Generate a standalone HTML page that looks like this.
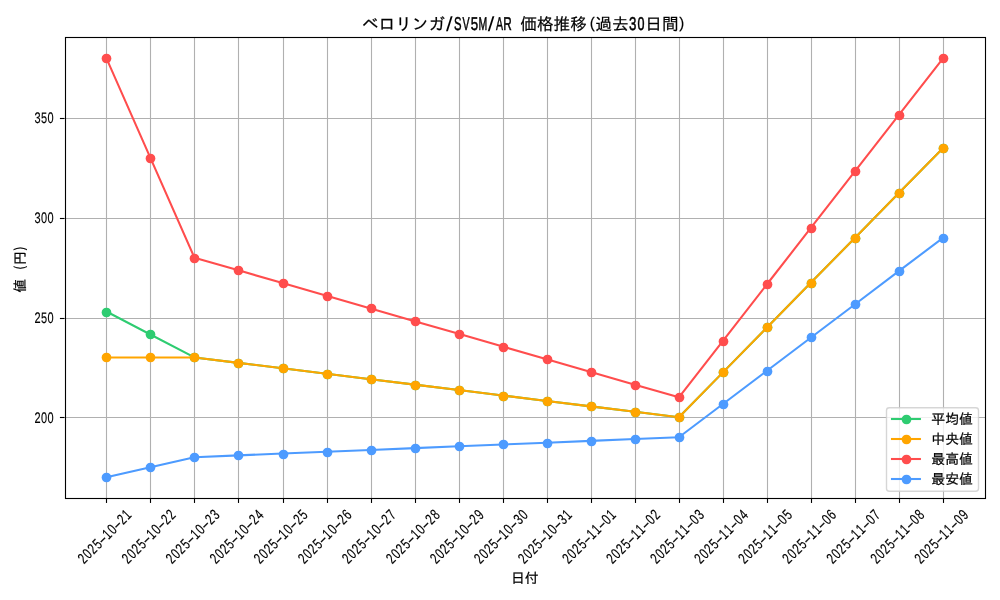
<!DOCTYPE html>
<html lang="ja"><head><meta charset="utf-8"><title>ベロリンガ/SV5M/AR 価格推移</title>
<style>html,body{margin:0;padding:0;background:#fff;overflow:hidden}svg{display:block}svg{will-change:transform}text{font-family:'Liberation Sans', 'IPAGothic', 'Noto Sans CJK JP', sans-serif;fill:#000;stroke:#000;stroke-width:0.22px}.g{text-rendering:geometricPrecision;stroke-width:0.15px}</style></head><body>
<svg width="1000" height="600" viewBox="0 0 1000 600">
<rect width="1000" height="600" fill="#fff"/>
<g stroke="#b0b0b0" stroke-width="1.11" fill="none">
<path d="M106.5 37.15 V498.1"/>
<path d="M150.5 37.15 V498.1"/>
<path d="M194.5 37.15 V498.1"/>
<path d="M238.5 37.15 V498.1"/>
<path d="M283.5 37.15 V498.1"/>
<path d="M327.5 37.15 V498.1"/>
<path d="M371.5 37.15 V498.1"/>
<path d="M415.5 37.15 V498.1"/>
<path d="M459.5 37.15 V498.1"/>
<path d="M503.5 37.15 V498.1"/>
<path d="M547.5 37.15 V498.1"/>
<path d="M591.5 37.15 V498.1"/>
<path d="M635.5 37.15 V498.1"/>
<path d="M679.5 37.15 V498.1"/>
<path d="M723.5 37.15 V498.1"/>
<path d="M767.5 37.15 V498.1"/>
<path d="M811.5 37.15 V498.1"/>
<path d="M855.5 37.15 V498.1"/>
<path d="M899.5 37.15 V498.1"/>
<path d="M943.5 37.15 V498.1"/>
<path d="M64.52 417.5 H985"/>
<path d="M64.52 318.5 H985"/>
<path d="M64.52 218.5 H985"/>
<path d="M64.52 118.5 H985"/>
</g>
<g stroke="#000" stroke-width="1.11" fill="none">
<path d="M106.5 498.1 v4.86"/>
<path d="M150.5 498.1 v4.86"/>
<path d="M194.5 498.1 v4.86"/>
<path d="M238.5 498.1 v4.86"/>
<path d="M283.5 498.1 v4.86"/>
<path d="M327.5 498.1 v4.86"/>
<path d="M371.5 498.1 v4.86"/>
<path d="M415.5 498.1 v4.86"/>
<path d="M459.5 498.1 v4.86"/>
<path d="M503.5 498.1 v4.86"/>
<path d="M547.5 498.1 v4.86"/>
<path d="M591.5 498.1 v4.86"/>
<path d="M635.5 498.1 v4.86"/>
<path d="M679.5 498.1 v4.86"/>
<path d="M723.5 498.1 v4.86"/>
<path d="M767.5 498.1 v4.86"/>
<path d="M811.5 498.1 v4.86"/>
<path d="M855.5 498.1 v4.86"/>
<path d="M899.5 498.1 v4.86"/>
<path d="M943.5 498.1 v4.86"/>
<path d="M64.52 417.5 h-4.6"/>
<path d="M64.52 318.5 h-4.6"/>
<path d="M64.52 218.5 h-4.6"/>
<path d="M64.52 118.5 h-4.6"/>
</g>
<clipPath id="c"><rect x="64.52" y="37.15" width="920.48" height="460.94"/></clipPath>
<g clip-path="url(#c)">
<path d="M106.36 311.53 L150.4 334.47 L194.44 357.42 L238.49 362.86 L282.53 368.3 L326.57 373.75 L370.61 379.19 L414.65 384.63 L458.7 390.07 L502.74 395.51 L546.78 400.96 L590.82 406.4 L634.87 411.84 L678.91 417.28 L722.95 372.39 L766.99 327.49 L811.03 282.59 L855.08 237.69 L899.12 192.8 L943.16 147.9" fill="none" stroke="#2ecc71" stroke-width="2.08" stroke-linejoin="round" stroke-linecap="square"/>
<g fill="#2ecc71">
<circle cx="106.5" cy="312.5" r="4.86"/>
<circle cx="150.5" cy="334.5" r="4.86"/>
<circle cx="194.5" cy="357.5" r="4.86"/>
<circle cx="238.5" cy="363.5" r="4.86"/>
<circle cx="283.5" cy="368.5" r="4.86"/>
<circle cx="327.5" cy="374.5" r="4.86"/>
<circle cx="371.5" cy="379.5" r="4.86"/>
<circle cx="415.5" cy="385.5" r="4.86"/>
<circle cx="459.5" cy="390.5" r="4.86"/>
<circle cx="503.5" cy="396.5" r="4.86"/>
<circle cx="547.5" cy="401.5" r="4.86"/>
<circle cx="591.5" cy="406.5" r="4.86"/>
<circle cx="635.5" cy="412.5" r="4.86"/>
<circle cx="679.5" cy="417.5" r="4.86"/>
<circle cx="723.5" cy="372.5" r="4.86"/>
<circle cx="767.5" cy="327.5" r="4.86"/>
<circle cx="811.5" cy="283.5" r="4.86"/>
<circle cx="855.5" cy="238.5" r="4.86"/>
<circle cx="899.5" cy="193.5" r="4.86"/>
<circle cx="943.5" cy="148.5" r="4.86"/>
</g>
<path d="M106.36 357.42 L150.4 357.42 L194.44 357.42 L238.49 362.86 L282.53 368.3 L326.57 373.75 L370.61 379.19 L414.65 384.63 L458.7 390.07 L502.74 395.51 L546.78 400.96 L590.82 406.4 L634.87 411.84 L678.91 417.28 L722.95 372.39 L766.99 327.49 L811.03 282.59 L855.08 237.69 L899.12 192.8 L943.16 147.9" fill="none" stroke="#ffa500" stroke-width="2.08" stroke-linejoin="round" stroke-linecap="square"/>
<g fill="#ffa500">
<circle cx="106.5" cy="357.5" r="4.86"/>
<circle cx="150.5" cy="357.5" r="4.86"/>
<circle cx="194.5" cy="357.5" r="4.86"/>
<circle cx="238.5" cy="363.5" r="4.86"/>
<circle cx="283.5" cy="368.5" r="4.86"/>
<circle cx="327.5" cy="374.5" r="4.86"/>
<circle cx="371.5" cy="379.5" r="4.86"/>
<circle cx="415.5" cy="385.5" r="4.86"/>
<circle cx="459.5" cy="390.5" r="4.86"/>
<circle cx="503.5" cy="396.5" r="4.86"/>
<circle cx="547.5" cy="401.5" r="4.86"/>
<circle cx="591.5" cy="406.5" r="4.86"/>
<circle cx="635.5" cy="412.5" r="4.86"/>
<circle cx="679.5" cy="417.5" r="4.86"/>
<circle cx="723.5" cy="372.5" r="4.86"/>
<circle cx="767.5" cy="327.5" r="4.86"/>
<circle cx="811.5" cy="283.5" r="4.86"/>
<circle cx="855.5" cy="238.5" r="4.86"/>
<circle cx="899.5" cy="193.5" r="4.86"/>
<circle cx="943.5" cy="148.5" r="4.86"/>
</g>
<path d="M106.36 58.11 L150.4 157.88 L194.44 257.65 L238.49 270.35 L282.53 283.05 L326.57 295.74 L370.61 308.44 L414.65 321.14 L458.7 333.84 L502.74 346.54 L546.78 359.23 L590.82 371.93 L634.87 384.63 L678.91 397.33 L722.95 340.79 L766.99 284.25 L811.03 227.72 L855.08 171.18 L899.12 114.64 L943.16 58.11" fill="none" stroke="#ff4d4d" stroke-width="2.08" stroke-linejoin="round" stroke-linecap="square"/>
<g fill="#ff4d4d">
<circle cx="106.5" cy="58.5" r="4.86"/>
<circle cx="150.5" cy="158.5" r="4.86"/>
<circle cx="194.5" cy="258.5" r="4.86"/>
<circle cx="238.5" cy="270.5" r="4.86"/>
<circle cx="283.5" cy="283.5" r="4.86"/>
<circle cx="327.5" cy="296.5" r="4.86"/>
<circle cx="371.5" cy="308.5" r="4.86"/>
<circle cx="415.5" cy="321.5" r="4.86"/>
<circle cx="459.5" cy="334.5" r="4.86"/>
<circle cx="503.5" cy="347.5" r="4.86"/>
<circle cx="547.5" cy="359.5" r="4.86"/>
<circle cx="591.5" cy="372.5" r="4.86"/>
<circle cx="635.5" cy="385.5" r="4.86"/>
<circle cx="679.5" cy="397.5" r="4.86"/>
<circle cx="723.5" cy="341.5" r="4.86"/>
<circle cx="767.5" cy="284.5" r="4.86"/>
<circle cx="811.5" cy="228.5" r="4.86"/>
<circle cx="855.5" cy="171.5" r="4.86"/>
<circle cx="899.5" cy="115.5" r="4.86"/>
<circle cx="943.5" cy="58.5" r="4.86"/>
</g>
<path d="M106.36 477.15 L150.4 467.17 L194.44 457.19 L238.49 455.38 L282.53 453.56 L326.57 451.75 L370.61 449.94 L414.65 448.12 L458.7 446.31 L502.74 444.49 L546.78 442.68 L590.82 440.87 L634.87 439.05 L678.91 437.24 L722.95 403.98 L766.99 370.72 L811.03 337.47 L855.08 304.21 L899.12 270.95 L943.16 237.69" fill="none" stroke="#4d9bff" stroke-width="2.08" stroke-linejoin="round" stroke-linecap="square"/>
<g fill="#4d9bff">
<circle cx="106.5" cy="477.5" r="4.86"/>
<circle cx="150.5" cy="467.5" r="4.86"/>
<circle cx="194.5" cy="457.5" r="4.86"/>
<circle cx="238.5" cy="455.5" r="4.86"/>
<circle cx="283.5" cy="454.5" r="4.86"/>
<circle cx="327.5" cy="452.5" r="4.86"/>
<circle cx="371.5" cy="450.5" r="4.86"/>
<circle cx="415.5" cy="448.5" r="4.86"/>
<circle cx="459.5" cy="446.5" r="4.86"/>
<circle cx="503.5" cy="444.5" r="4.86"/>
<circle cx="547.5" cy="443.5" r="4.86"/>
<circle cx="591.5" cy="441.5" r="4.86"/>
<circle cx="635.5" cy="439.5" r="4.86"/>
<circle cx="679.5" cy="437.5" r="4.86"/>
<circle cx="723.5" cy="404.5" r="4.86"/>
<circle cx="767.5" cy="371.5" r="4.86"/>
<circle cx="811.5" cy="337.5" r="4.86"/>
<circle cx="855.5" cy="304.5" r="4.86"/>
<circle cx="899.5" cy="271.5" r="4.86"/>
<circle cx="943.5" cy="238.5" r="4.86"/>
</g>
</g>
<rect x="65.5" y="37.5" width="920" height="461" fill="none" stroke="#000" stroke-width="1.11"/>
<text class="g" transform="translate(83.66 564.76) rotate(-45) scale(0.72 1)" font-size="15.25"><tspan x="0.58 10.23 19.87 29.53">2025</tspan><tspan x="37.91" textLength="10.99" lengthAdjust="spacingAndGlyphs">-</tspan><tspan x="48.6 58.46">10</tspan><tspan x="66.85" textLength="10.99" lengthAdjust="spacingAndGlyphs">-</tspan><tspan x="77.75 87.19">21</tspan></text>
<text class="g" transform="translate(127.7 564.76) rotate(-45) scale(0.72 1)" font-size="15.25"><tspan x="0.58 10.23 19.87 29.53">2025</tspan><tspan x="37.91" textLength="10.99" lengthAdjust="spacingAndGlyphs">-</tspan><tspan x="48.6 58.46">10</tspan><tspan x="66.85" textLength="10.99" lengthAdjust="spacingAndGlyphs">-</tspan><tspan x="77.75 87.39">22</tspan></text>
<text class="g" transform="translate(171.74 564.76) rotate(-45) scale(0.72 1)" font-size="15.25"><tspan x="0.58 10.23 19.87 29.53">2025</tspan><tspan x="37.91" textLength="10.99" lengthAdjust="spacingAndGlyphs">-</tspan><tspan x="48.6 58.46">10</tspan><tspan x="66.85" textLength="10.99" lengthAdjust="spacingAndGlyphs">-</tspan><tspan x="77.75 87.44">23</tspan></text>
<text class="g" transform="translate(215.79 564.76) rotate(-45) scale(0.72 1)" font-size="15.25"><tspan x="0.58 10.23 19.87 29.53">2025</tspan><tspan x="37.91" textLength="10.99" lengthAdjust="spacingAndGlyphs">-</tspan><tspan x="48.6 58.46">10</tspan><tspan x="66.85" textLength="10.99" lengthAdjust="spacingAndGlyphs">-</tspan><tspan x="77.75 87.44">24</tspan></text>
<text class="g" transform="translate(259.83 564.76) rotate(-45) scale(0.72 1)" font-size="15.25"><tspan x="0.58 10.23 19.87 29.53">2025</tspan><tspan x="37.91" textLength="10.99" lengthAdjust="spacingAndGlyphs">-</tspan><tspan x="48.6 58.46">10</tspan><tspan x="66.85" textLength="10.99" lengthAdjust="spacingAndGlyphs">-</tspan><tspan x="77.75 87.41">25</tspan></text>
<text class="g" transform="translate(303.87 564.76) rotate(-45) scale(0.72 1)" font-size="15.25"><tspan x="0.58 10.23 19.87 29.53">2025</tspan><tspan x="37.91" textLength="10.99" lengthAdjust="spacingAndGlyphs">-</tspan><tspan x="48.6 58.46">10</tspan><tspan x="66.85" textLength="10.99" lengthAdjust="spacingAndGlyphs">-</tspan><tspan x="77.75 87.34">26</tspan></text>
<text class="g" transform="translate(347.91 564.76) rotate(-45) scale(0.72 1)" font-size="15.25"><tspan x="0.58 10.23 19.87 29.53">2025</tspan><tspan x="37.91" textLength="10.99" lengthAdjust="spacingAndGlyphs">-</tspan><tspan x="48.6 58.46">10</tspan><tspan x="66.85" textLength="10.99" lengthAdjust="spacingAndGlyphs">-</tspan><tspan x="77.75 87.39">27</tspan></text>
<text class="g" transform="translate(391.95 564.76) rotate(-45) scale(0.72 1)" font-size="15.25"><tspan x="0.58 10.23 19.87 29.53">2025</tspan><tspan x="37.91" textLength="10.99" lengthAdjust="spacingAndGlyphs">-</tspan><tspan x="48.6 58.46">10</tspan><tspan x="66.85" textLength="10.99" lengthAdjust="spacingAndGlyphs">-</tspan><tspan x="77.75 87.39">28</tspan></text>
<text class="g" transform="translate(436 564.76) rotate(-45) scale(0.72 1)" font-size="15.25"><tspan x="0.58 10.23 19.87 29.53">2025</tspan><tspan x="37.91" textLength="10.99" lengthAdjust="spacingAndGlyphs">-</tspan><tspan x="48.6 58.46">10</tspan><tspan x="66.85" textLength="10.99" lengthAdjust="spacingAndGlyphs">-</tspan><tspan x="77.75 87.4">29</tspan></text>
<text class="g" transform="translate(480.04 564.76) rotate(-45) scale(0.72 1)" font-size="15.25"><tspan x="0.58 10.23 19.87 29.53">2025</tspan><tspan x="37.91" textLength="10.99" lengthAdjust="spacingAndGlyphs">-</tspan><tspan x="48.6 58.46">10</tspan><tspan x="66.85" textLength="10.99" lengthAdjust="spacingAndGlyphs">-</tspan><tspan x="77.79 87.39">30</tspan></text>
<text class="g" transform="translate(524.08 564.76) rotate(-45) scale(0.72 1)" font-size="15.25"><tspan x="0.58 10.23 19.87 29.53">2025</tspan><tspan x="37.91" textLength="10.99" lengthAdjust="spacingAndGlyphs">-</tspan><tspan x="48.6 58.46">10</tspan><tspan x="66.85" textLength="10.99" lengthAdjust="spacingAndGlyphs">-</tspan><tspan x="77.79 87.19">31</tspan></text>
<text class="g" transform="translate(568.12 564.76) rotate(-45) scale(0.72 1)" font-size="15.25"><tspan x="0.58 10.23 19.87 29.53">2025</tspan><tspan x="37.91" textLength="10.99" lengthAdjust="spacingAndGlyphs">-</tspan><tspan x="48.6 58.25">11</tspan><tspan x="66.85" textLength="10.99" lengthAdjust="spacingAndGlyphs">-</tspan><tspan x="77.75 87.19">01</tspan></text>
<text class="g" transform="translate(612.17 564.76) rotate(-45) scale(0.72 1)" font-size="15.25"><tspan x="0.58 10.23 19.87 29.53">2025</tspan><tspan x="37.91" textLength="10.99" lengthAdjust="spacingAndGlyphs">-</tspan><tspan x="48.6 58.25">11</tspan><tspan x="66.85" textLength="10.99" lengthAdjust="spacingAndGlyphs">-</tspan><tspan x="77.75 87.39">02</tspan></text>
<text class="g" transform="translate(656.21 564.76) rotate(-45) scale(0.72 1)" font-size="15.25"><tspan x="0.58 10.23 19.87 29.53">2025</tspan><tspan x="37.91" textLength="10.99" lengthAdjust="spacingAndGlyphs">-</tspan><tspan x="48.6 58.25">11</tspan><tspan x="66.85" textLength="10.99" lengthAdjust="spacingAndGlyphs">-</tspan><tspan x="77.75 87.44">03</tspan></text>
<text class="g" transform="translate(700.25 564.76) rotate(-45) scale(0.72 1)" font-size="15.25"><tspan x="0.58 10.23 19.87 29.53">2025</tspan><tspan x="37.91" textLength="10.99" lengthAdjust="spacingAndGlyphs">-</tspan><tspan x="48.6 58.25">11</tspan><tspan x="66.85" textLength="10.99" lengthAdjust="spacingAndGlyphs">-</tspan><tspan x="77.75 87.44">04</tspan></text>
<text class="g" transform="translate(744.29 564.76) rotate(-45) scale(0.72 1)" font-size="15.25"><tspan x="0.58 10.23 19.87 29.53">2025</tspan><tspan x="37.91" textLength="10.99" lengthAdjust="spacingAndGlyphs">-</tspan><tspan x="48.6 58.25">11</tspan><tspan x="66.85" textLength="10.99" lengthAdjust="spacingAndGlyphs">-</tspan><tspan x="77.75 87.41">05</tspan></text>
<text class="g" transform="translate(788.33 564.76) rotate(-45) scale(0.72 1)" font-size="15.25"><tspan x="0.58 10.23 19.87 29.53">2025</tspan><tspan x="37.91" textLength="10.99" lengthAdjust="spacingAndGlyphs">-</tspan><tspan x="48.6 58.25">11</tspan><tspan x="66.85" textLength="10.99" lengthAdjust="spacingAndGlyphs">-</tspan><tspan x="77.75 87.34">06</tspan></text>
<text class="g" transform="translate(832.38 564.76) rotate(-45) scale(0.72 1)" font-size="15.25"><tspan x="0.58 10.23 19.87 29.53">2025</tspan><tspan x="37.91" textLength="10.99" lengthAdjust="spacingAndGlyphs">-</tspan><tspan x="48.6 58.25">11</tspan><tspan x="66.85" textLength="10.99" lengthAdjust="spacingAndGlyphs">-</tspan><tspan x="77.75 87.39">07</tspan></text>
<text class="g" transform="translate(876.42 564.76) rotate(-45) scale(0.72 1)" font-size="15.25"><tspan x="0.58 10.23 19.87 29.53">2025</tspan><tspan x="37.91" textLength="10.99" lengthAdjust="spacingAndGlyphs">-</tspan><tspan x="48.6 58.25">11</tspan><tspan x="66.85" textLength="10.99" lengthAdjust="spacingAndGlyphs">-</tspan><tspan x="77.75 87.39">08</tspan></text>
<text class="g" transform="translate(920.46 564.76) rotate(-45) scale(0.72 1)" font-size="15.25"><tspan x="0.58 10.23 19.87 29.53">2025</tspan><tspan x="37.91" textLength="10.99" lengthAdjust="spacingAndGlyphs">-</tspan><tspan x="48.6 58.25">11</tspan><tspan x="66.85" textLength="10.99" lengthAdjust="spacingAndGlyphs">-</tspan><tspan x="77.75 87.4">09</tspan></text>
<text class="g" transform="translate(34.35 422.68) scale(0.72 1)" font-size="15.25"><tspan x="0.24 9.2 18.16">200</tspan></text>
<text class="g" transform="translate(34.35 322.91) scale(0.72 1)" font-size="15.25"><tspan x="0.24 9.21 18.16">250</tspan></text>
<text class="g" transform="translate(34.35 223.14) scale(0.72 1)" font-size="15.25"><tspan x="0.28 9.2 18.16">300</tspan></text>
<text class="g" transform="translate(34.35 123.37) scale(0.72 1)" font-size="15.25"><tspan x="0.28 9.21 18.16">350</tspan></text>
<text x="524.76" y="583.2" font-size="13.89" text-anchor="middle">日付</text>
<text transform="translate(25.2 268.43) rotate(-90)" font-size="13.89"><tspan x="-24.31" y="0">値</tspan><tspan x="-10.42" y="0"> </tspan><tspan class="g" x="-0.71" y="-1.3" textLength="3.27" lengthAdjust="spacingAndGlyphs" font-size="14.3">(</tspan><tspan x="3.47" y="0">円</tspan><tspan class="g" x="18.28" y="-1.3" textLength="3.27" lengthAdjust="spacingAndGlyphs" font-size="14.3">)</tspan></text>
<text font-size="16.67"><tspan x="361.88" y="29.62">ベロリンガ</tspan><tspan class="g" x="446.09" y="30.62" textLength="6.6" lengthAdjust="spacingAndGlyphs" font-size="20.5" style="stroke-width:0">/</tspan><tspan class="g" x="453.97" y="29.62" textLength="7.53" lengthAdjust="spacingAndGlyphs" font-size="18.5" style="stroke-width:0.5px">S</tspan><tspan class="g" x="462.52" y="29.62" textLength="7.09" lengthAdjust="spacingAndGlyphs" font-size="18.5" style="stroke-width:0.5px">V</tspan><tspan class="g" x="470.72" y="29.62" textLength="7.39" lengthAdjust="spacingAndGlyphs" font-size="18.5" style="stroke-width:0.5px">5</tspan><tspan class="g" x="478.38" y="29.62" textLength="8.72" lengthAdjust="spacingAndGlyphs" font-size="18.5" style="stroke-width:0.5px">M</tspan><tspan class="g" x="487.77" y="30.62" textLength="6.6" lengthAdjust="spacingAndGlyphs" font-size="20.5" style="stroke-width:0">/</tspan><tspan class="g" x="495.88" y="29.62" textLength="7.04" lengthAdjust="spacingAndGlyphs" font-size="18.5" style="stroke-width:0.5px">A</tspan><tspan class="g" x="503.27" y="29.62" textLength="8.51" lengthAdjust="spacingAndGlyphs" font-size="18.5" style="stroke-width:0.5px">R</tspan><tspan x="511.91" y="29.62"> </tspan><tspan x="520.24" y="29.62">価格推移</tspan><tspan class="g" x="589.65" y="27.82" textLength="5.02" lengthAdjust="spacingAndGlyphs" font-size="15.3">(</tspan><tspan x="595.26" y="29.62">過去</tspan><tspan class="g" x="629.11" y="29.62" textLength="7.39" lengthAdjust="spacingAndGlyphs" font-size="18.5" style="stroke-width:0.5px">3</tspan><tspan class="g" x="637.61" y="29.62" textLength="6.98" lengthAdjust="spacingAndGlyphs" font-size="18.5" style="stroke-width:0.5px">0</tspan><tspan x="645.27" y="29.62">日間</tspan><tspan class="g" x="679.19" y="27.82" textLength="5.02" lengthAdjust="spacingAndGlyphs" font-size="15.3">)</tspan></text>
<rect x="886.5" y="407.7" width="92" height="83.5" rx="2.78" fill="#fff" fill-opacity="0.8" stroke="#ccc" stroke-opacity="0.8" stroke-width="1.39"/>
<path d="M892 419 H919.9" stroke="#2ecc71" stroke-width="2.08" stroke-linecap="square" fill="none"/>
<circle cx="906.5" cy="419.5" r="4.86" fill="#2ecc71"/>
<text x="931.3" y="424.06" font-size="13.89">平均値</text>
<path d="M892 439 H919.9" stroke="#ffa500" stroke-width="2.08" stroke-linecap="square" fill="none"/>
<circle cx="906.5" cy="439.5" r="4.86" fill="#ffa500"/>
<text x="931.3" y="444.06" font-size="13.89">中央値</text>
<path d="M892 459 H919.9" stroke="#ff4d4d" stroke-width="2.08" stroke-linecap="square" fill="none"/>
<circle cx="906.5" cy="459.5" r="4.86" fill="#ff4d4d"/>
<text x="931.3" y="464.06" font-size="13.89">最高値</text>
<path d="M892 479 H919.9" stroke="#4d9bff" stroke-width="2.08" stroke-linecap="square" fill="none"/>
<circle cx="906.5" cy="479.5" r="4.86" fill="#4d9bff"/>
<text x="931.3" y="484.06" font-size="13.89">最安値</text>
</svg></body></html>
